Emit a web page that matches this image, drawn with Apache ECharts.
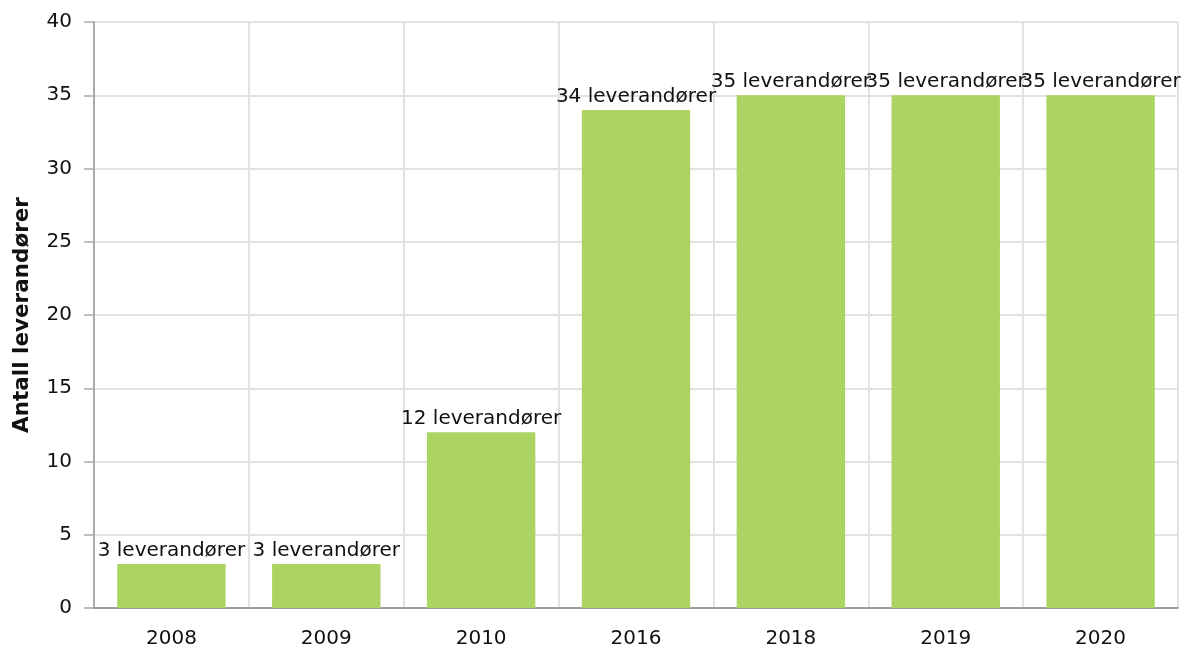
<!DOCTYPE html>
<html>
<head>
<meta charset="utf-8">
<script src="https://cdn.jsdelivr.net/npm/echarts@6/dist/echarts.min.js"></script>
<style>
  html, body { margin: 0; padding: 0; background: #fff; }
  #chart { width: 1185px; height: 652px; }
</style>
</head>
<body>
<div id="chart"></div>
<script>
var years = ['2008', '2009', '2010', '2016', '2018', '2019', '2020'];
var suppliers = [3, 3, 12, 34, 35, 35, 35];
var yTicks = { min: 0, max: 40, interval: 5 };

var chart = echarts.init(document.getElementById('chart'));

chart.setOption({
    animation: false,
    textStyle: { fontFamily: 'DejaVu Sans' },
    grid: { left: 94, right: 7, top: 22, bottom: 44 },
    xAxis: {
        type: 'category',
        data: years,
        axisLine: { lineStyle: { color: '#888', width: 1.5 } },
        axisTick: { alignWithLabel: true, length: 6, lineStyle: { color: '#bbb', width: 2 } },
        axisLabel: { color: '#111', fontSize: 20, margin: 21 },
        splitLine: { show: true, lineStyle: { color: '#e2e2e2', width: 2 } }
    },
    yAxis: {
        type: 'value',
        min: yTicks.min,
        max: yTicks.max,
        interval: yTicks.interval,
        name: 'Antall leverandører',
        nameLocation: 'middle',
        nameGap: 61,
        nameTextStyle: { fontSize: 21.5, fontWeight: 'bold', color: '#111' },
        axisLine: { show: true, lineStyle: { color: '#aaa', width: 2 } },
        axisTick: { show: true, length: 10, lineStyle: { color: '#aaa', width: 1.5 } },
        axisLabel: { color: '#111', fontSize: 20, margin: 22 },
        splitLine: { lineStyle: { color: '#e2e2e2', width: 2 } }
    },
    series: [{
        type: 'bar',
        data: suppliers,
        barWidth: '70%',
        itemStyle: { color: '#acd462' },
        label: {
            show: true,
            position: 'top',
            distance: 3,
            color: '#111',
            fontSize: 20,
            formatter: function (p) { return p.value + ' leverandører'; }
        }
    }]
});
</script>
</body>
</html>
